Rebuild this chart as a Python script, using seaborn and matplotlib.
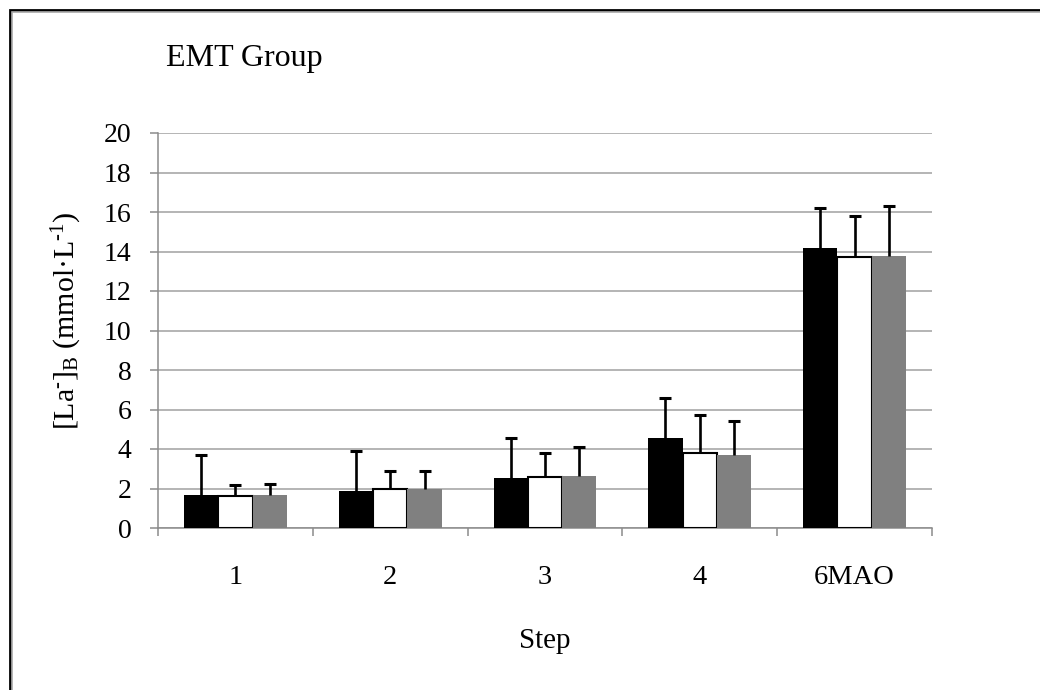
import numpy as np
import pandas as pd
import seaborn as sns
import matplotlib
matplotlib.use("Agg")
import matplotlib.pyplot as plt
from matplotlib.lines import Line2D

# Blood lactate by exercise step, three trial conditions
steps = ["1", "2", "3", "4", "6MAO"]
conditions = ["A", "B", "C"]
mean_a = [1.69, 1.86, 2.54, 4.57, 14.18]
mean_b = [1.61, 1.95, 2.57, 3.81, 13.74]
mean_c = [1.69, 1.96, 2.62, 3.71, 13.79]
sd_a = [2.03, 2.03, 2.03, 2.01, 2.01]
sd_b = [0.56, 0.93, 1.22, 1.91, 2.06]
sd_c = [0.56, 0.92, 1.47, 1.71, 2.50]
y_ticks = [0, 2, 4, 6, 8, 10, 12, 14, 16, 18, 20]

df = pd.DataFrame({
    "Step": steps * 3,
    "Condition": [c for c in conditions for _ in steps],
    "Lactate": mean_a + mean_b + mean_c,
    "SD": sd_a + sd_b + sd_c,
})

sns.set_theme(style="white")
plt.rcParams["font.family"] = ["Liberation Serif", "DejaVu Serif"]
plt.rcParams["mathtext.fontset"] = "custom"
plt.rcParams["mathtext.rm"] = "Liberation Serif"
plt.rcParams["mathtext.it"] = "Liberation Serif:italic"

W, H = 1040, 690
fig = plt.figure(figsize=(W / 100, H / 100), dpi=100)
ax = fig.add_axes([158 / W, 1 - 528 / H, (932 - 158) / W, (528 - 133) / H])

palette = {"A": "#000000", "B": "#ffffff", "C": "#808080"}
sns.barplot(data=df, x="Step", y="Lactate", hue="Condition", order=steps,
            hue_order=conditions, palette=palette, width=0.665, gap=0,
            errorbar=None, saturation=1, legend=False, ax=ax, zorder=3)

# Edges: only the white bars carry a black outline
patches = [p for p in ax.patches if p.get_height() > 0]
for i, p in enumerate(patches):
    cond = conditions[i // len(steps)]
    if cond == "B":
        p.set_edgecolor("black")
        p.set_linewidth(1.5)
    else:
        p.set_edgecolor("none")
        p.set_linewidth(0)

# Upper-only SD whiskers from the bar tops
for i, p in enumerate(patches):
    row = df.iloc[i]
    xc = p.get_x() + p.get_width() / 2
    _, caps, _ = ax.errorbar(xc, row["Lactate"], yerr=[[0], [row["SD"]]],
                             fmt="none", ecolor="black", elinewidth=1.9,
                             capsize=4.3, capthick=2.2, zorder=4)
    caps[0].set_visible(False)

ax.set_ylim(0, 20)
ax.set_xlim(-0.5, len(steps) - 0.5)
ax.set_yticks(y_ticks)
ax.yaxis.grid(True, color="#a0a0a0", linewidth=1.1, zorder=0)
ax.xaxis.grid(False)
ax.set_axisbelow(True)

for s in ["top", "right"]:
    ax.spines[s].set_visible(False)
for s in ["left", "bottom"]:
    ax.spines[s].set_color("#8c8c8c")
    ax.spines[s].set_linewidth(1.1)

# Category labels centred, tick marks on the group boundaries
ax.set_xticks(np.arange(len(steps)))
ax.set_xticklabels(steps)
ax.set_xticks(np.arange(-0.5, len(steps)), minor=True)
ax.tick_params(axis="x", which="major", length=0, pad=26.5, labelsize=20.5,
               labelcolor="black")
ax.tick_params(axis="x", which="minor", length=6, width=1.1, color="#8c8c8c",
               direction="out", bottom=True)
ax.tick_params(axis="y", which="major", length=6, width=1.1, color="#8c8c8c",
               direction="out", left=True, pad=13, labelsize=20,
               labelcolor="black")

ax.set_xlabel("Step", fontsize=21, color="black")
ax.xaxis.set_label_coords(545 / W, 1 - 648 / H, transform=fig.transFigure)
ax.xaxis.label.set_va("baseline")

ax.set_ylabel(r"[La$^{\text{-}}$]$_{\text{B}}$ (mmol·L$^{\text{-1}}$)",
              fontsize=21.5, color="black")
ax.yaxis.set_label_coords(67 / W, 1 - 321 / H, transform=fig.transFigure)
ax.yaxis.label.set_va("center")

fig.text(166 / W, 1 - 66 / H, "EMT Group", fontsize=23, va="baseline",
         ha="left", color="black")

# Outer frame: black top and left edges with a grey inner line
fig.add_artist(Line2D([9.5 / W, 9.5 / W, 1.0], [0.0, 1 - 9.5 / H, 1 - 9.5 / H],
                      color="black", linewidth=2.0, solid_joinstyle="miter",
                      transform=fig.transFigure))
fig.add_artist(Line2D([12 / W, 12 / W, 1.0], [0.0, 1 - 12 / H, 1 - 12 / H],
                      color="#a8a8a8", linewidth=1.2, solid_joinstyle="miter",
                      transform=fig.transFigure))

fig.savefig("out.png", dpi=100, facecolor="white")
